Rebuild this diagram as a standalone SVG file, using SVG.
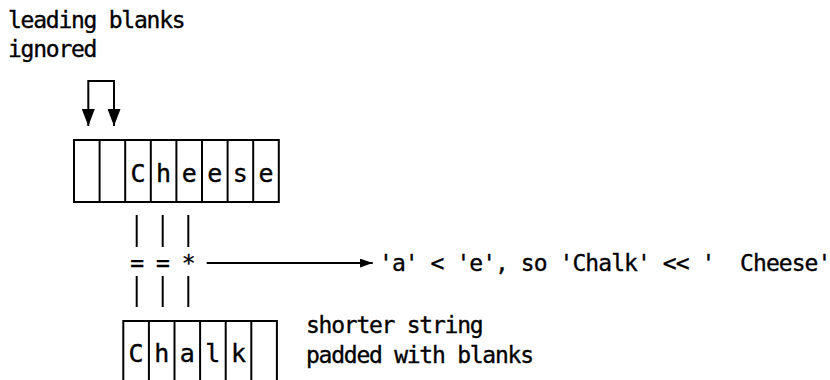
<svg xmlns="http://www.w3.org/2000/svg" width="830" height="380" viewBox="0 0 830 380">
  <style>
    text { font-family: "DejaVu Sans Mono", "Liberation Mono", monospace; font-size: 23px; fill: #000; stroke: #000; stroke-width: 0.35px; }
    .lbl { letter-spacing: -1.25px; }
    .eq { letter-spacing: -0.95px; }
    .cell { text-anchor: middle; font-size: 25px; }
    .box { fill: #fff; stroke: #000; stroke-width: 2; }
    .div { stroke: #000; stroke-width: 2; }
    .bar { stroke: #000; stroke-width: 2; }
    .conn { fill: none; stroke: #000; stroke-width: 2; }
  </style>
  <defs>
    <marker id="bigHead" markerUnits="userSpaceOnUse" markerWidth="17" markerHeight="13" refX="17" refY="6.5" orient="auto-start-reverse">
      <path d="M0,0 L17,6.5 L0,13 z" fill="#000"/>
    </marker>
    <marker id="smallHead" markerUnits="userSpaceOnUse" markerWidth="13" markerHeight="9" refX="13" refY="4.5" orient="auto">
      <path d="M0,0 L13,4.5 L0,9 z" fill="#000"/>
    </marker>
  </defs>

  <g id="label-leading">
    <text class="lbl" x="8" y="27.5">leading blanks</text>
    <text class="lbl" x="8" y="57">ignored</text>
  </g>

  <g id="cheese-string">
    <rect class="box" x="74" y="140" width="204.8" height="62"/>
    <line class="div" x1="99.6" y1="140" x2="99.6" y2="202"/>
    <line class="div" x1="125.2" y1="140" x2="125.2" y2="202"/>
    <line class="div" x1="150.8" y1="140" x2="150.8" y2="202"/>
    <line class="div" x1="176.4" y1="140" x2="176.4" y2="202"/>
    <line class="div" x1="202" y1="140" x2="202" y2="202"/>
    <line class="div" x1="227.6" y1="140" x2="227.6" y2="202"/>
    <line class="div" x1="253.2" y1="140" x2="253.2" y2="202"/>
    <text class="cell" x="138" y="182">C</text>
    <text class="cell" x="163.6" y="182">h</text>
    <text class="cell" x="189.2" y="182">e</text>
    <text class="cell" x="214.8" y="182">e</text>
    <text class="cell" x="240.4" y="182">s</text>
    <text class="cell" x="266" y="182">e</text>
  </g>

  <g id="comparison">
    <line class="bar" x1="136.7" y1="215" x2="136.7" y2="247"/>
    <line class="bar" x1="162.7" y1="215" x2="162.7" y2="247"/>
    <line class="bar" x1="188.3" y1="215" x2="188.3" y2="247"/>
    <text class="eq" x="130.25" y="270.5">= = *</text>
    <line class="bar" x1="136.7" y1="276" x2="136.7" y2="307"/>
    <line class="bar" x1="162.7" y1="276" x2="162.7" y2="307"/>
    <line class="bar" x1="188.3" y1="276" x2="188.3" y2="307"/>
  </g>

  <g id="chalk-string">
    <rect class="box" x="123.3" y="321" width="153.6" height="80"/>
    <line class="div" x1="148.9" y1="321" x2="148.9" y2="381"/>
    <line class="div" x1="174.5" y1="321" x2="174.5" y2="381"/>
    <line class="div" x1="200.1" y1="321" x2="200.1" y2="381"/>
    <line class="div" x1="225.7" y1="321" x2="225.7" y2="381"/>
    <line class="div" x1="251.3" y1="321" x2="251.3" y2="381"/>
    <text class="cell" x="136.1" y="362">C</text>
    <text class="cell" x="161.7" y="362">h</text>
    <text class="cell" x="187.3" y="362">a</text>
    <text class="cell" x="212.9" y="362">l</text>
    <text class="cell" x="238.5" y="362">k</text>
  </g>

  <g id="result">
    <text class="eq" xml:space="preserve" x="379" y="271">'a' &lt; 'e', so 'Chalk' &lt;&lt; '  Cheese'</text>
  </g>

  <g id="label-padding">
    <text class="lbl" x="306" y="333">shorter string</text>
    <text class="lbl" x="306" y="363">padded with blanks</text>
  </g>

  <g id="connectors">
    <path class="conn" d="M88.3,126 V81 H114 V126" marker-start="url(#bigHead)" marker-end="url(#bigHead)"/>
    <path class="conn" d="M206.7,263 H372.7" stroke-width="1.6" marker-end="url(#smallHead)"/>
  </g>
</svg>
